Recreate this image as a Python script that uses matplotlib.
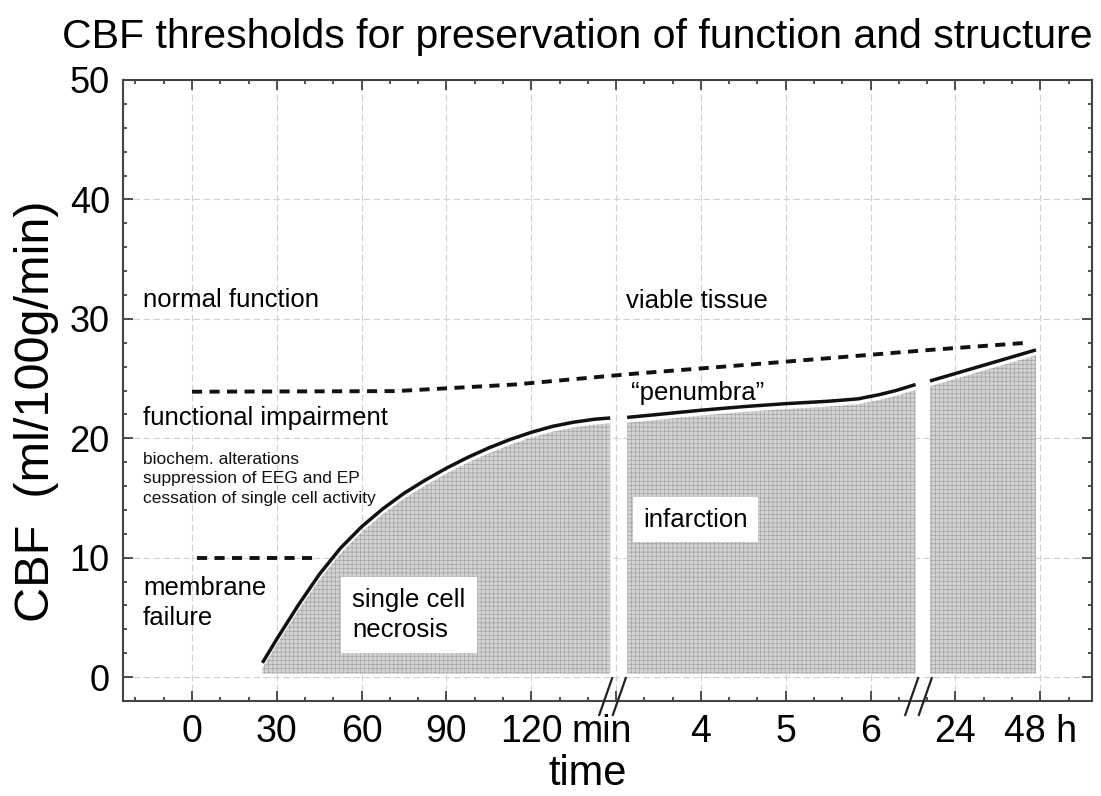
import numpy as np
import matplotlib
matplotlib.use('Agg')
import matplotlib.pyplot as plt
from matplotlib.ticker import MultipleLocator, FixedLocator, FixedFormatter
from matplotlib.path import Path

plt.rcParams['font.family'] = ['Liberation Sans', 'DejaVu Sans']
plt.rcParams['hatch.linewidth'] = 0.5

# time axis uses evenly spaced slots, labels give the real time
tick_pos = [0, 1, 2, 3, 4, 5, 6, 7, 8, 9, 10]
tick_lab = ['0', '30', '60', '90', '120', '', '4', '5', '6', '24', '48 h']
breaks = [4.95, 8.56]

# infarction threshold, split into pieces at the axis breaks
seg1_x = [0.83, 1.0, 1.25, 1.5, 1.75, 2.0, 2.25, 2.5, 2.75, 3.0, 3.25, 3.5,
          3.75, 4.0, 4.25, 4.5, 4.75, 4.93]
seg1_y = [1.2, 3.2, 6.0, 8.6, 10.8, 12.6, 14.1, 15.4, 16.5, 17.5, 18.4, 19.2,
          19.9, 20.5, 21.0, 21.35, 21.6, 21.7]
seg2_x = [5.13, 5.5, 6.0, 6.5, 7.0, 7.5, 7.85, 8.1, 8.3, 8.53]
seg2_y = [21.75, 22.0, 22.35, 22.65, 22.9, 23.1, 23.3, 23.65, 24.0, 24.5]
seg3_x = [8.7, 9.95]
seg3_y = [24.8, 27.4]

# penumbra threshold (upper dashed line)
pen_x = [0, 2.4, 3.8, 5.2, 6.8, 8.7, 9.85]
pen_y = [23.9, 23.95, 24.5, 25.4, 26.3, 27.4, 28.0]

# membrane failure threshold
mem_x = [0.06, 1.48]
mem_y = [10, 10]

fig = plt.figure(figsize=(11.01, 7.96), dpi=100)
ax = fig.add_axes([0.1117, 0.1193, 0.8801, 0.7802])
ax.set_xlim(-0.814, 10.61)
ax.set_ylim(-2, 50)
ax.set_axisbelow(True)

# stippled infarct area under the threshold curve
for sx, sy in [(seg1_x, seg1_y), (seg2_x, seg2_y), (seg3_x, seg3_y)]:
    sx = np.array(sx)
    sy = np.array(sy)
    ax.fill_between(sx, 0.3, sy - 0.45, facecolor='#d3d3d3', edgecolor='#a4a4a4',
                    hatch='++++', linewidth=0, zorder=1)
    ax.plot(sx, sy, color='#111111', lw=2.5, solid_capstyle='butt', zorder=3)

ax.plot(pen_x, pen_y, color='#111111', lw=2.8, dashes=(2.6, 1.9), zorder=3)
ax.plot(mem_x, mem_y, color='#111111', lw=2.8, dashes=(2.6, 1.9), zorder=3)

# ticks and grid
ax.xaxis.set_major_locator(FixedLocator(tick_pos))
ax.xaxis.set_major_formatter(FixedFormatter(tick_lab))
ax.xaxis.set_minor_locator(MultipleLocator(1 / 3))
ax.yaxis.set_major_locator(MultipleLocator(10))
ax.yaxis.set_minor_locator(MultipleLocator(2))
ax.tick_params(which='both', direction='in', top=True, right=True,
               color='#333333', width=1.2)
ax.tick_params(which='major', length=7)
ax.tick_params(which='minor', length=3)
ax.tick_params(axis='x', labelsize=27, pad=9)
ax.tick_params(axis='y', labelsize=26, pad=9.5)
ax.grid(True, which='major', color='#d0d0d0', lw=0.8, ls=(0, (6, 3)))
for sp in ax.spines.values():
    sp.set_color('#444444')
    sp.set_linewidth(1.5)

# unit label after the last minute tick
ax.annotate('min', xy=(4.47, 0), xycoords=('data', 'axes fraction'),
            xytext=(0, -9), textcoords='offset points', ha='left', va='top',
            fontsize=27, annotation_clip=False)

# axis break marks
slash = Path([(-0.7, -1), (0.0, 1), (0.0, -1), (0.7, 1)],
             [Path.MOVETO, Path.LINETO, Path.MOVETO, Path.LINETO])
ax.plot(breaks, [-1.6] * len(breaks), ls='none', marker=slash, markersize=28,
        markeredgecolor='#222222', markeredgewidth=1.6, clip_on=False, zorder=5)

# region labels
ax.text(-0.58, 31.0, 'normal function', fontsize=18.5, va='baseline')
ax.text(5.12, 30.9, 'viable tissue', fontsize=18.5, va='baseline')
ax.text(-0.58, 21.1, 'functional impairment', fontsize=18.5, va='baseline')
ax.text(-0.58, 16.6, 'biochem. alterations\nsuppression of EEG and EP\n'
        'cessation of single cell activity', fontsize=12.5, va='center',
        linespacing=1.35, color='#111111')
ax.text(-0.58, 6.2, 'membrane\nfailure', fontsize=18.5, va='center',
        linespacing=1.3)
ax.text(5.17, 23.2, '\u201cpenumbra\u201d', fontsize=18.5, va='baseline', zorder=4)
ax.text(5.32, 12.6, 'infarction', fontsize=18.5, va='baseline', zorder=4,
        bbox=dict(boxstyle='square,pad=0.4', fc='white', ec='none'))
ax.text(1.89, 5.2, 'single cell\nnecrosis', fontsize=18.5, va='center',
        linespacing=1.27, zorder=4,
        bbox=dict(boxstyle='square,pad=0.45', fc='white', ec='none'))

fig.text(0.524, 0.9397, 'CBF thresholds for preservation of function and structure',
         ha='center', va='baseline', fontsize=29.5)
fig.text(0.0327, 0.4837, 'CBF  (ml/100g/min)', rotation=90, ha='center',
         va='center', fontsize=35)
fig.text(0.534, 0.014, 'time', ha='center', va='baseline', fontsize=30)

fig.savefig('out.png', dpi=100)
